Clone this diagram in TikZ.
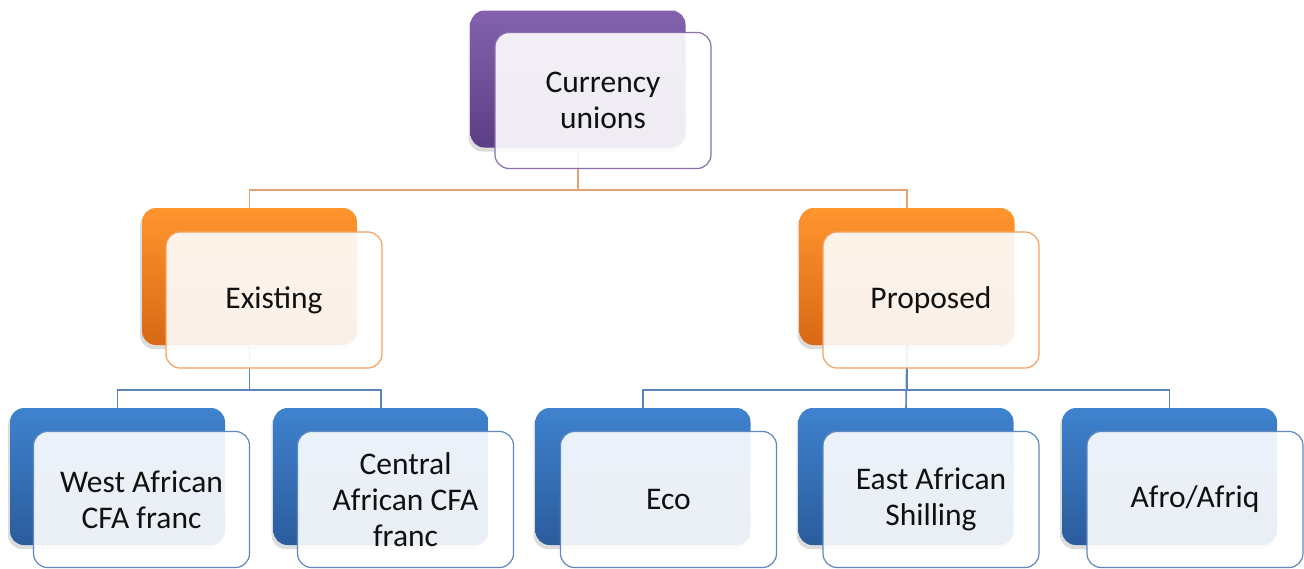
\documentclass[tikz,border=0pt]{standalone}
\usepackage{fontspec}
\setmainfont{Carlito}
\usetikzlibrary{shadows}
\definecolor{purpT}{HTML}{8462AE}
\definecolor{purpB}{HTML}{5C3E84}
\definecolor{purpL}{HTML}{8A6EAA}
\definecolor{oranT}{HTML}{FF952E}
\definecolor{oranB}{HTML}{D86815}
\definecolor{oranL}{HTML}{F5A060}
\definecolor{blueT}{HTML}{3F82CE}
\definecolor{blueB}{HTML}{2B5C9C}
\definecolor{blueL}{HTML}{5F88BE}
\definecolor{linkO}{HTML}{E3A273}
\definecolor{linkB}{HTML}{5C84BA}
\definecolor{ink}{HTML}{101010}
\tikzset{
  backbox/.style={rounded corners=14pt, minimum width=215pt, minimum height=137pt,
    inner sep=0pt, draw=none,
    drop shadow={shadow xshift=-2pt, shadow yshift=-4pt, opacity=0.28}},
  frontbox/.style={rounded corners=14pt, minimum width=216pt, minimum height=136pt,
    inner sep=0pt, line width=1.2pt, fill=white, fill opacity=0.9, text opacity=1,
    align=center, text=ink, font=\fontsize{31.5}{36}\selectfont},
  purpback/.style={backbox, top color=purpT, bottom color=purpB},
  oranback/.style={backbox, top color=oranT, bottom color=oranB},
  blueback/.style={backbox, top color=blueT, bottom color=blueB},
  purpfront/.style={frontbox, draw=purpL},
  oranfront/.style={frontbox, draw=oranL},
  bluefront/.style={frontbox, draw=blueL},
  olink/.style={draw=linkO, line width=1.6pt},
  blink/.style={draw=linkB, line width=1.6pt},
}
\begin{document}
\begin{tikzpicture}[x=1pt, y=-1pt]
\useasboundingbox (0,0) rectangle (1304,568);

% back panels
\node[purpback] (cuB) at (578,79) {};
\node[oranback] (exB) at (249.5,276.5) {};
\node[oranback] (prB) at (907,276.5) {};
\node[blueback] (waB) at (117.5,476.5) {};
\node[blueback] (caB) at (381,476.5) {};
\node[blueback] (ecB) at (643,476.5) {};
\node[blueback] (eaB) at (906,476.5) {};
\node[blueback] (afB) at (1169.5,476.5) {};

% connectors
\draw[olink] (cuB.south) -- ++(0,42) -| (exB.north);
\draw[olink] (cuB.south) -- ++(0,42) -| (prB.north);
\draw[blink] (exB.south) -- ++(0,45) -| (waB.north);
\draw[blink] (exB.south) -- ++(0,45) -| (caB.north);
\draw[blink] (prB.south) -- ++(0,45) -| (ecB.north);
\draw[blink] (prB.south) -- (eaB.north);
\draw[blink] (prB.south) -- ++(0,45) -| (afB.north);

% front panels with labels
\node[purpfront] (cu) at (603,100.5) {Currency\\unions};
\node[oranfront] (ex) at (274,300) {Existing};
\node[oranfront] (pr) at (931,300) {Proposed};
\node[bluefront] (wa) at (141.5,499.5) {West African\\CFA franc};
\node[bluefront] (ca) at (405.5,499.5) {Central\\African CFA\\franc};
\node[bluefront] (ec) at (668.5,499.5) {Eco};
\node[bluefront] (ea) at (931,499.5) {East African\\Shilling};
\node[bluefront] (af) at (1195,499.5) {Afro/Afriq};
\end{tikzpicture}
\end{document}
